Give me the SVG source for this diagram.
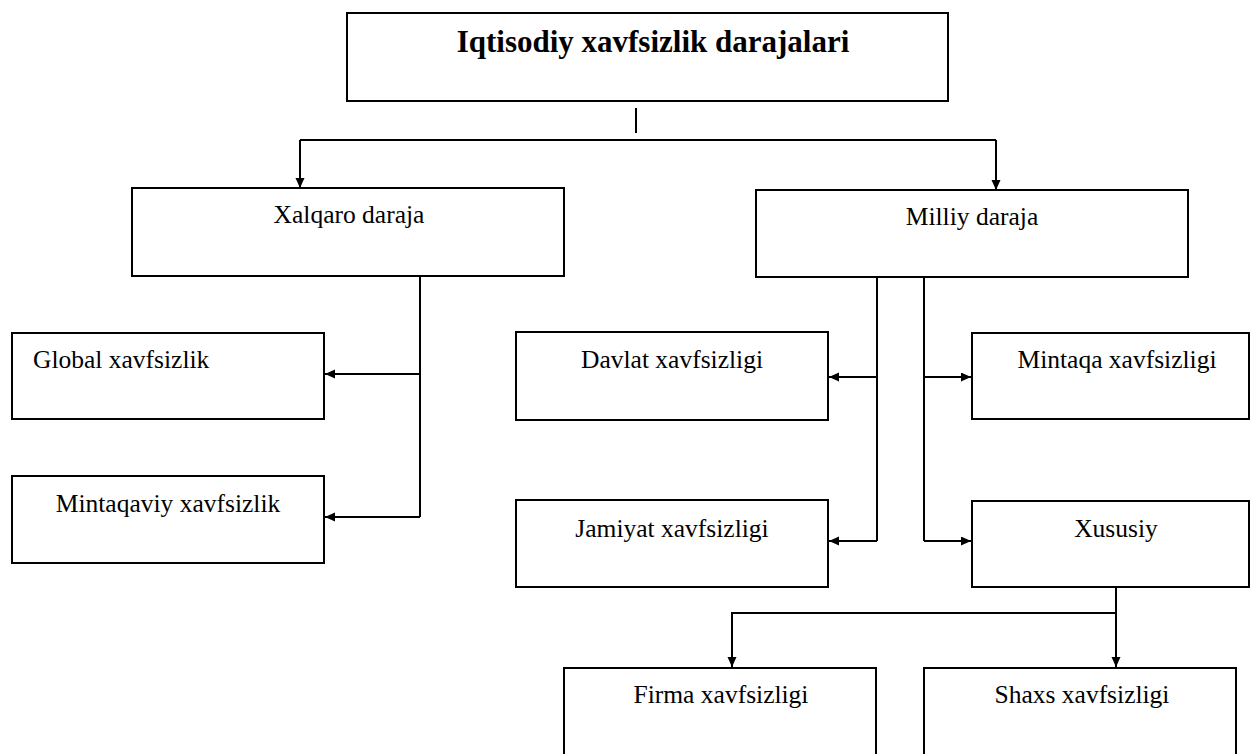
<svg xmlns="http://www.w3.org/2000/svg" width="1251" height="754" viewBox="0 0 1251 754">
<defs>
<marker id="ah" markerUnits="userSpaceOnUse" markerWidth="10" markerHeight="10" refX="10" refY="4.5" orient="auto">
<path d="M0,0 L10,4.5 L0,9 z" fill="#000"/>
</marker>
<style>
.box{fill:#fff;stroke:#000;stroke-width:2}
.t{font-family:"Liberation Serif","Times New Roman",serif;font-size:25.5px;fill:#000}
.c{text-anchor:middle}
.title{font-family:"Liberation Serif","Times New Roman",serif;font-size:31px;font-weight:bold;fill:#000;text-anchor:middle}
.ln{fill:none;stroke:#000;stroke-width:2}
.arr{fill:none;stroke:#000;stroke-width:2;marker-end:url(#ah)}
</style>
</defs>
<rect width="1251" height="754" fill="#fff"/>
<g id="connectors">
<line class="ln" x1="636" y1="108" x2="636" y2="133"/>
<path class="ln" d="M300,140 H996"/>
<path class="arr" d="M300,140 V188"/>
<path class="arr" d="M996,140 V190"/>
<path class="ln" d="M420,276 V517"/>
<path class="arr" d="M420,374 H325"/>
<path class="arr" d="M420,517 H325"/>
<path class="ln" d="M877,277 V541"/>
<path class="arr" d="M877,377 H829"/>
<path class="arr" d="M877,541 H829"/>
<path class="ln" d="M924,277 V541"/>
<path class="arr" d="M924,377 H971"/>
<path class="arr" d="M924,541 H971"/>
<path class="arr" d="M1116,587 V667"/>
<path class="ln" d="M1116,613 H732"/>
<path class="arr" d="M732,612 V667"/>
</g>
<g id="n-root">
<rect class="box" x="347" y="13" width="601" height="88"/>
<text class="title" x="653" y="52">Iqtisodiy  xavfsizlik darajalari</text>
</g>
<g id="n-xalqaro">
<rect class="box" x="132" y="188" width="432" height="88"/>
<text class="t c" x="349" y="223">Xalqaro daraja</text>
</g>
<g id="n-milliy">
<rect class="box" x="756" y="190" width="432" height="87"/>
<text class="t c" x="972" y="225">Milliy  daraja</text>
</g>
<g id="n-global">
<rect class="box" x="12" y="333" width="312" height="86"/>
<text class="t" x="33" y="368">Global  xavfsizlik</text>
</g>
<g id="n-mintaqaviy">
<rect class="box" x="12" y="476" width="312" height="87"/>
<text class="t c" x="168" y="512">Mintaqaviy xavfsizlik</text>
</g>
<g id="n-davlat">
<rect class="box" x="516" y="332" width="312" height="88"/>
<text class="t c" x="672" y="368">Davlat xavfsizligi</text>
</g>
<g id="n-jamiyat">
<rect class="box" x="516" y="500" width="312" height="87"/>
<text class="t c" x="672" y="537">Jamiyat xavfsizligi</text>
</g>
<g id="n-mintaqa">
<rect class="box" x="972" y="333" width="277" height="86"/>
<text class="t c" x="1117" y="368">Mintaqa xavfsizligi</text>
</g>
<g id="n-xususiy">
<rect class="box" x="972" y="501" width="277" height="86"/>
<text class="t c" x="1116" y="537">Xususiy</text>
</g>
<g id="n-firma">
<rect class="box" x="564" y="668" width="312" height="100"/>
<text class="t c" x="721" y="703">Firma  xavfsizligi</text>
</g>
<g id="n-shaxs">
<rect class="box" x="924" y="668" width="312" height="100"/>
<text class="t c" x="1082" y="703">Shaxs xavfsizligi</text>
</g>
</svg>
